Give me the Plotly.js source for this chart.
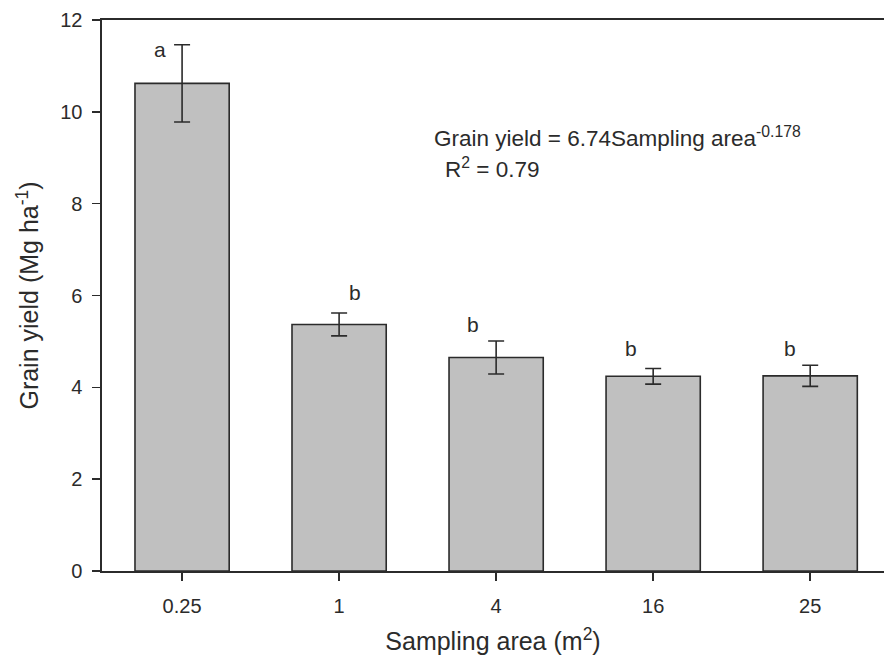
<!DOCTYPE html>
<html>
<head>
<meta charset="utf-8">
<script src="https://cdn.plot.ly/plotly-3.0.1.min.js"></script>
<style>html,body{margin:0;padding:0;background:#fff;}#chart{width:884px;height:664px;}</style>
</head>
<body>
<div id="chart"></div>
<script>
var categories = ["0.25", "1", "4", "16", "25"];
var grainYield = [10.62, 5.37, 4.65, 4.24, 4.25];
var errors = [0.84, 0.25, 0.36, 0.17, 0.23];
var letters = ["a", "b", "b", "b", "b"];
var letterX = [-0.14, 1.10, 1.85, 2.86, 3.87];
var letterY = [11.35, 6.06, 5.36, 4.84, 4.84];

var FONT = "Liberation Sans, Arial, sans-serif";
var INK = "#2b2b2b";

var trace = {
  type: "bar",
  x: [0, 1, 2, 3, 4],
  y: grainYield,
  width: 0.6,
  marker: {color: "#c0c0c0", line: {color: INK, width: 1.6}},
  error_y: {type: "data", array: errors, visible: true, color: INK, thickness: 1.6, width: 8},
  hoverinfo: "skip"
};

var annotations = letters.map(function (t, i) {
  return {x: letterX[i], y: letterY[i], xref: "x", yref: "y", text: t, showarrow: false,
    font: {family: FONT, size: 21, color: INK}, xanchor: "center", yanchor: "middle"};
});
annotations.push({x: 1.59, y: 9.45, xref: "x", yref: "y", xanchor: "left", yanchor: "middle", showarrow: false,
  text: "Grain yield = 6.74Sampling area<sup>-0.178</sup>", font: {family: FONT, size: 22.5, color: INK}});
annotations.push({x: 1.66, y: 8.78, xref: "x", yref: "y", xanchor: "left", yanchor: "middle", showarrow: false,
  text: "R<sup>2</sup> = 0.79", font: {family: FONT, size: 22.5, color: INK}});

var layout = {
  width: 884, height: 664,
  margin: {l: 102, r: 0, t: 20, b: 93},
  paper_bgcolor: "#fff", plot_bgcolor: "#fff",
  showlegend: false,
  font: {family: FONT, color: INK},
  xaxis: {
    range: [-0.51, 4.47],
    tickmode: "array", tickvals: [0, 1, 2, 3, 4], ticktext: categories,
    showline: true, linecolor: INK, linewidth: 1.6, mirror: true,
    ticks: "outside", ticklen: 8, tickwidth: 1.6, tickcolor: INK,
    showgrid: false, zeroline: false,
    tickfont: {family: FONT, size: 20, color: INK},
    ticklabelstandoff: 8,
    title: {text: "Sampling area (m<sup>2</sup>)", font: {family: FONT, size: 25, color: INK}, standoff: 17}
  },
  yaxis: {
    range: [0, 12], tickvals: [0, 2, 4, 6, 8, 10, 12],
    showline: true, linecolor: INK, linewidth: 1.6,
    ticks: "outside", ticklen: 8, tickwidth: 1.6, tickcolor: INK,
    showgrid: false, zeroline: false,
    tickfont: {family: FONT, size: 20, color: INK},
    ticklabelstandoff: 6,
    title: {text: "Grain yield (Mg ha<sup>-1</sup>)", font: {family: FONT, size: 25, color: INK}, standoff: 14}
  },
  annotations: annotations
};

Plotly.newPlot("chart", [trace], layout, {staticPlot: true, displayModeBar: false});
</script>
</body>
</html>
